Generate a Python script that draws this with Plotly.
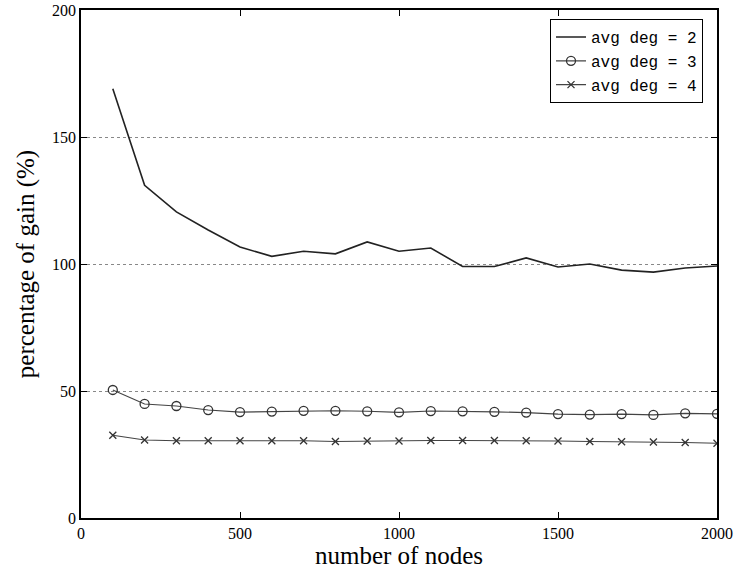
import plotly.graph_objects as go

nodes = [100, 200, 300, 400, 500, 600, 700, 800, 900, 1000,
         1100, 1200, 1300, 1400, 1500, 1600, 1700, 1800, 1900, 2000]
gain_deg2 = [169, 131, 120.5, 113.4, 106.7, 103, 105, 104, 108.7, 105,
             106.3, 99, 99, 102.4, 98.8, 100, 97.6, 96.8, 98.4, 99.2]
gain_deg3 = [50.4, 44.9, 44.1, 42.5, 41.7, 41.9, 42.2, 42.2, 42.0, 41.6,
             42.1, 42.0, 41.8, 41.5, 40.9, 40.7, 40.9, 40.6, 41.2, 41.0]
gain_deg4 = [32.6, 30.7, 30.4, 30.4, 30.4, 30.4, 30.4, 30.1, 30.3, 30.3,
             30.5, 30.5, 30.5, 30.4, 30.3, 30.1, 30.0, 29.9, 29.7, 29.4]
names = ["avg deg = 2", "avg deg = 3", "avg deg = 4"]
xticks = [0, 500, 1000, 1500, 2000]
yticks = [0, 50, 100, 150, 200]

fig = go.Figure()
fig.add_trace(go.Scatter(x=nodes, y=gain_deg2, mode="lines", name=names[0],
                         line=dict(color="#222", width=1.6)))
fig.add_trace(go.Scatter(x=nodes, y=gain_deg3, mode="lines+markers", name=names[1],
                         line=dict(color="#444", width=1.1),
                         marker=dict(symbol="circle-open", size=9, color="#333",
                                     line=dict(width=1.3))))
fig.add_trace(go.Scatter(x=nodes, y=gain_deg4, mode="lines+markers", name=names[2],
                         line=dict(color="#444", width=1.1),
                         marker=dict(symbol="x-thin-open", size=7, color="#333",
                                     line=dict(width=1.3))))

axis_common = dict(showline=True, linecolor="black", linewidth=1.5, mirror="ticks",
                   ticks="inside", ticklen=6, tickcolor="black", zeroline=False,
                   automargin=False,
                   tickfont=dict(family="Liberation Serif", size=16, color="black"))

fig.update_layout(
    width=735, height=574,
    margin=dict(l=81, r=18, t=10, b=56),
    paper_bgcolor="white", plot_bgcolor="white",
    showlegend=True,
    legend=dict(x=0.978, y=0.982, xanchor="right", yanchor="top",
                bordercolor="black", borderwidth=1, bgcolor="white",
                font=dict(family="Liberation Mono", size=16, color="black"),
                tracegroupgap=0, itemwidth=30),
    xaxis=dict(range=[0, 2000], tickvals=xticks, showgrid=False,
               title=dict(text="number of nodes", standoff=2,
                          font=dict(family="Liberation Serif", size=25, color="black")),
               **axis_common),
    yaxis=dict(range=[0, 200], tickvals=yticks, showgrid=True, gridcolor="#888",
               griddash="dot", gridwidth=1,
               title=dict(text="percentage of gain (%)", standoff=10,
                          font=dict(family="Liberation Serif", size=25, color="black")),
               **axis_common),
)

fig.write_html("out.html")
